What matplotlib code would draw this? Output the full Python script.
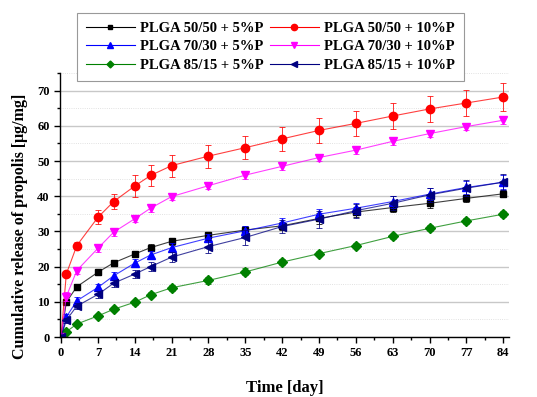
import matplotlib
matplotlib.use('Agg')
import matplotlib.pyplot as plt
from matplotlib.lines import Line2D
from matplotlib.ticker import MultipleLocator

plt.rcParams['font.family'] = 'Liberation Serif'
plt.rcParams['font.weight'] = 'bold'

# Czas [dni]
dias = [0, 1, 3, 7, 10, 14, 17, 21, 28, 35, 42, 49, 56, 63, 70, 77, 84]

plga5050_5 = [0, 9.9, 14.3, 18.4, 21.1, 23.6, 25.4, 27.2, 28.9, 30.4, 31.6, 33.7, 35.5, 36.8, 38.0, 39.4, 40.7]
plga5050_5_err = [0, 0.6, 0.7, 0.8, 0.8, 0.9, 0.9, 1.0, 1.0, 1.1, 1.1, 1.5, 1.5, 1.2, 1.2, 1.0, 1.0]

plga5050_10 = [0, 17.9, 26.0, 34.0, 38.5, 42.9, 45.9, 48.7, 51.4, 53.8, 56.3, 58.7, 60.7, 62.8, 64.8, 66.5, 68.2]
plga5050_10_err = [0, 0.8, 1.0, 2.0, 2.0, 3.0, 3.0, 3.1, 3.3, 3.3, 3.5, 3.5, 3.5, 3.7, 3.8, 3.8, 3.9]

plga7030_5 = [0, 5.7, 10.3, 14.1, 17.4, 21.0, 23.3, 25.4, 28.1, 30.2, 32.4, 34.9, 36.6, 38.5, 40.6, 42.5, 44.0]
plga7030_5_err = [0, 0.8, 1.0, 1.0, 1.0, 1.1, 1.1, 1.2, 1.2, 1.3, 1.5, 1.6, 1.6, 1.7, 1.8, 1.8, 1.9]

plga7030_10 = [0, 11.5, 18.9, 25.2, 29.8, 33.6, 36.6, 39.9, 43.0, 46.0, 48.5, 51.0, 53.1, 55.6, 57.8, 59.8, 61.6]
plga7030_10_err = [0, 1.3, 1.0, 1.0, 1.1, 1.0, 1.0, 1.0, 1.0, 1.0, 1.0, 1.0, 1.0, 1.0, 1.0, 1.0, 1.2]

plga8515_5 = [0, 1.5, 3.7, 6.0, 7.9, 9.9, 12.0, 14.0, 16.1, 18.5, 21.3, 23.7, 26.0, 28.6, 30.9, 33.0, 34.9]
plga8515_5_err = [0, 0.5, 0.6, 0.6, 0.6, 0.7, 0.7, 0.8, 0.9, 1.0, 0.8, 0.8, 0.8, 0.8, 0.8, 0.8, 0.9]

plga8515_10 = [0, 4.8, 8.8, 12.1, 15.3, 17.9, 20.0, 22.7, 25.7, 28.3, 31.4, 33.5, 35.9, 38.0, 40.4, 42.3, 44.0]
plga8515_10_err = [0, 0.7, 0.8, 1.0, 1.0, 1.1, 1.2, 1.5, 1.8, 2.1, 1.8, 2.4, 2.0, 2.0, 2.0, 2.2, 2.3]

series = [
    ('PLGA 50/50 + 5%P', plga5050_5, plga5050_5_err, '#000000', 's', 5),
    ('PLGA 70/30 + 5%P', plga7030_5, plga7030_5_err, '#0000FF', '^', 6),
    ('PLGA 85/15 + 5%P', plga8515_5, plga8515_5_err, '#008000', 'D', 5),
    ('PLGA 50/50 + 10%P', plga5050_10, plga5050_10_err, '#FF0000', 'o', 6),
    ('PLGA 70/30 + 10%P', plga7030_10, plga7030_10_err, '#FF00FF', 'v', 6),
    ('PLGA 85/15 + 10%P', plga8515_10, plga8515_10_err, '#000080', '<', 6),
]

fig = plt.figure(figsize=(5.37, 3.97), dpi=100)
ax = fig.add_axes([0.1117, 0.151, 0.8363, 0.665])

handles = []
for nombre, vals, err, color, marker, ms in series:
    ax.errorbar(dias[1:], vals[1:], yerr=err[1:], color=color, marker='none', linestyle='none',
                elinewidth=0.7, capsize=2.5, capthick=0.7, ecolor=color, alpha=0.8)
    ax.plot(dias, vals, color=color, linewidth=0.8, alpha=0.75)
    ax.plot(dias, vals, color=color, marker=marker, markersize=ms, linestyle='none')
    handles.append(Line2D([], [], color=color, linewidth=0.8, marker=marker,
                          markersize=ms - 1.5, label=nombre))

ax.set_xlim(-0.2, 85.1)
ax.set_ylim(0, 75)
ax.xaxis.set_major_locator(MultipleLocator(7))
ax.xaxis.set_minor_locator(MultipleLocator(3.5))
ax.yaxis.set_major_locator(MultipleLocator(10))
ax.yaxis.set_minor_locator(MultipleLocator(5))
ax.grid(True, which='major', axis='y', color='#c8c8c8', linewidth=1.0)
ax.grid(True, which='minor', axis='y', color='#d8d8d8', linewidth=0.6, linestyle=':')
ax.set_axisbelow(True)

for s in ['top', 'right']:
    ax.spines[s].set_visible(False)
ax.spines['left'].set_linewidth(1.0)
ax.spines['bottom'].set_linewidth(1.0)
ax.tick_params(which='major', direction='out', length=4, width=1.0, labelsize=9)
ax.tick_params(which='minor', direction='out', length=2.5, width=1.0)

ax.set_xlabel('Time [day]', fontsize=12, fontweight='bold', labelpad=15)
ax.set_ylabel('Cumulative release of propolis [μg/mg]', fontsize=11.5, fontweight='bold')
ax.yaxis.set_label_coords(-0.071, 0.42)

leg = ax.legend(handles=handles, loc='upper left', bbox_to_anchor=(0.143, 0.968),
                bbox_transform=fig.transFigure, ncol=2, fontsize=10.5, frameon=True,
                fancybox=False, handlelength=3.4, handletextpad=0.35, columnspacing=0.4,
                labelspacing=0.38, borderpad=0.6, borderaxespad=0, framealpha=1)
leg.get_frame().set_edgecolor('#999999')
leg.get_frame().set_linewidth(0.8)

fig.savefig('out.png', dpi=100)
